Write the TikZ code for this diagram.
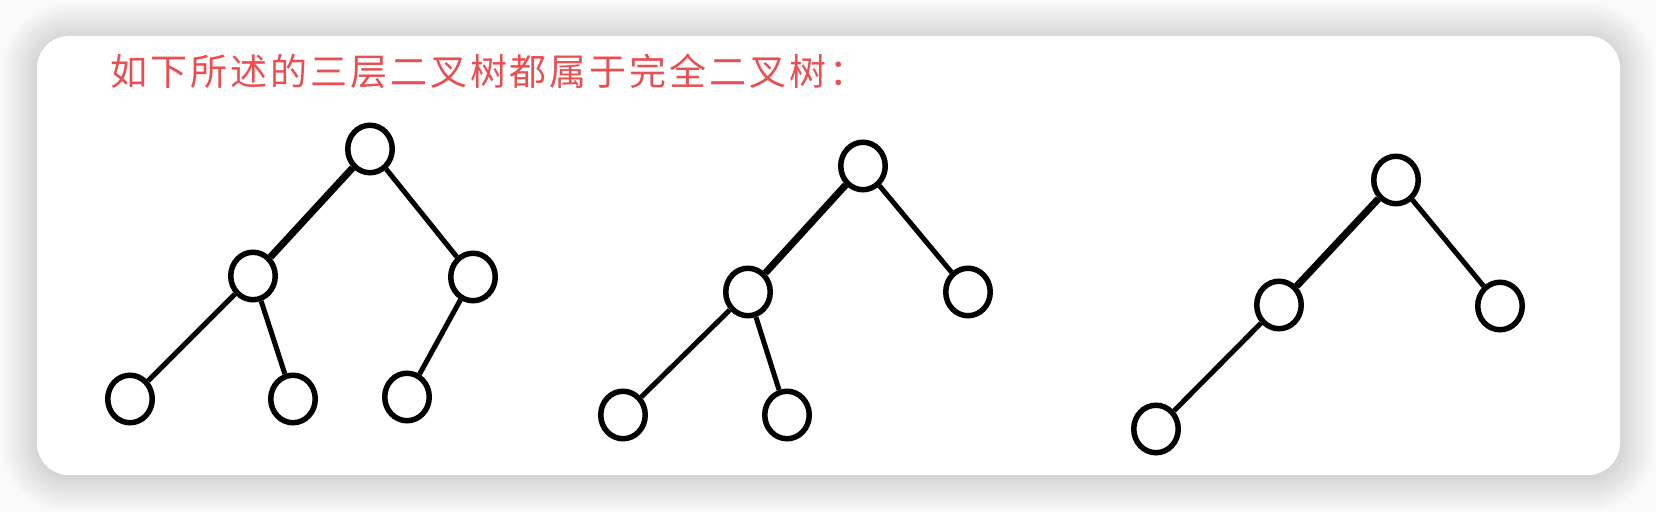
\documentclass[tikz,border=0pt]{standalone}
\usepackage{fontspec}
\newfontfamily\cjk[LetterSpace=8]{Noto Sans CJK SC}
\usetikzlibrary{shapes.geometric}
\definecolor{titlered}{RGB}{234,78,80}
\tikzset{
  tn/.style={draw=black, line width=2.75pt, ellipse, minimum width=22.25pt, minimum height=23.75pt, inner sep=0pt, fill=white},
  edge/.style={line width=2.5pt},
  thick edge/.style={line width=3.5pt},
}
\begin{document}
\begin{tikzpicture}[x=0.5pt,y=-0.5pt]
\useasboundingbox (0,0) rectangle (1656,512);
\fill[white!98!black] (0,0) rectangle (1656,512);
% shadow
\foreach \i [evaluate=\i as \r using {16+0.5*\i}] in {1,...,36} {
  \fill[black,opacity=0.0055,rounded corners=\r pt] (37-\i,38-\i) rectangle (1620+\i,477+\i);
}
% card
\fill[white,rounded corners=16pt] (37,36) rectangle (1620,475);
% title
\node[anchor=west, text=titlered, inner sep=0pt] (title) at (110,71)
  {\cjk\fontsize{18.5pt}{22pt}\selectfont 如下所述的三层二叉树都属于完全二叉树：};
% tree 1
\node[tn] (a0) at (370,149) {};
\node[tn] (a1) at (253,276) {};
\node[tn] (a2) at (473,277) {};
\node[tn] (a3) at (130,399) {};
\node[tn] (a4) at (293,399) {};
\node[tn] (a5) at (407,397) {};
% tree 2
\node[tn] (b0) at (863,166) {};
\node[tn] (b1) at (748,292) {};
\node[tn] (b2) at (968,292) {};
\node[tn] (b3) at (623,415) {};
\node[tn] (b4) at (787,415) {};
% tree 3
\node[tn] (c0) at (1396,180) {};
\node[tn] (c1) at (1279,305) {};
\node[tn] (c2) at (1500,306) {};
\node[tn] (c3) at (1156,429) {};
% edges
\draw[thick edge] (a0) -- (a1);
\draw[edge] (a0) -- (a2);
\draw[edge] (a1) -- (a3);
\draw[edge] (a1) -- (a4);
\draw[edge] (a2) -- (a5);
\draw[thick edge] (b0) -- (b1);
\draw[edge] (b0) -- (b2);
\draw[edge] (b1) -- (b3);
\draw[edge] (b1) -- (b4);
\draw[thick edge] (c0) -- (c1);
\draw[edge] (c0) -- (c2);
\draw[edge] (c1) -- (c3);
\end{tikzpicture}
\end{document}
